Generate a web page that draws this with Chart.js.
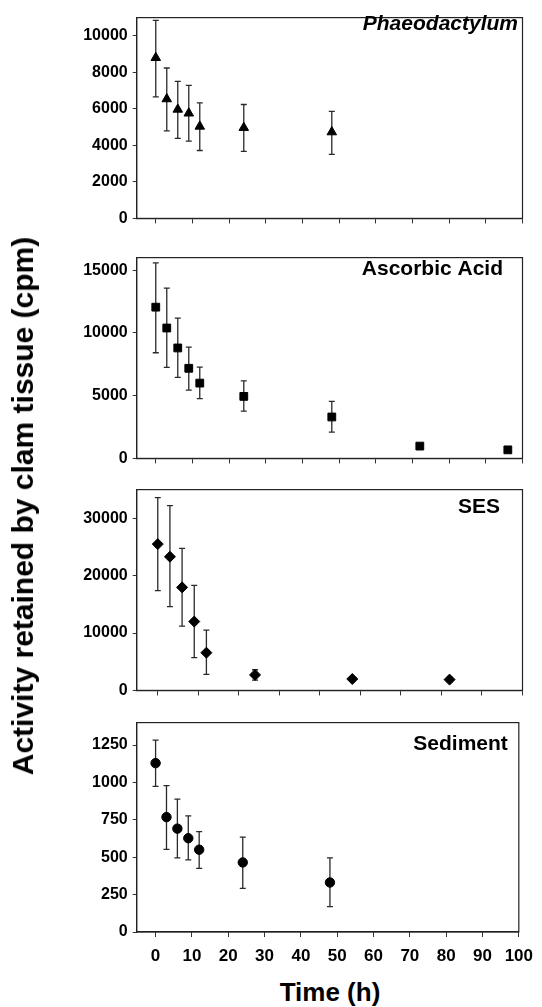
<!DOCTYPE html>
<html>
<head>
<meta charset="utf-8">
<script src="https://cdn.jsdelivr.net/npm/chart.js@4.4.1/dist/chart.umd.min.js"></script>
<style>
  html, body { margin: 0; padding: 0; background: #fff; }
  #wrap { position: relative; width: 542px; height: 1007px; overflow: hidden; background: #fff; }
  canvas { position: absolute; left: 0; }
  .ytitle { position: absolute; left: 23px; top: 506px; transform: translate(-50%, -50%) rotate(-90deg);
    white-space: nowrap; font: bold 30px "Liberation Sans", Arial, sans-serif; color: #000; line-height: 1; }
  .xtitle { position: absolute; left: 330px; top: 992px; transform: translate(-50%, -50%);
    white-space: nowrap; font: bold 26px "Liberation Sans", Arial, sans-serif; color: #000; line-height: 1; }
</style>
</head>
<body>
<div id="wrap">
  <canvas id="c1"></canvas>
  <canvas id="c2"></canvas>
  <canvas id="c3"></canvas>
  <canvas id="c4"></canvas>
  <div class="ytitle">Activity retained by clam tissue (cpm)</div>
  <div class="xtitle">Time (h)</div>
</div>
<script>
// ---- Data ----
const xTicks = [0, 10, 20, 30, 40, 50, 60, 70, 80, 90, 100];
const sesXTicks = [0, 10, 20, 30, 40, 50, 60, 70, 80, 90];

const phaeoTime = [0, 3, 6, 9, 12, 24, 48];
const phaeoMean = [8800, 6540, 5970, 5760, 5040, 4970, 4730];
const phaeoLow  = [6660, 4800, 4380, 4230, 3720, 3670, 3510];
const phaeoHigh = [10850, 8240, 7510, 7290, 6330, 6240, 5860];
const phaeoYTicks = [0, 2000, 4000, 6000, 8000, 10000];

const ascTime = [0, 3, 6, 9, 12, 24, 48, 72, 96];
const ascMean = [12050, 10390, 8800, 7180, 6000, 4940, 3300, 980, 680];
const ascLow  = [8420, 7260, 6450, 5440, 4760, 3760, 2090, null, null];
const ascHigh = [15580, 13560, 11170, 8870, 7280, 6180, 4550, null, null];
const ascYTicks = [0, 5000, 10000, 15000];

const sesTime = [0, 3, 6, 9, 12, 24, 48, 72];
const sesMean = [25500, 23300, 17960, 12000, 6570, 2700, 1990, 1880];
const sesLow  = [17400, 14600, 11200, 5700, 2800, 1800, 1600, 1500];
const sesHigh = [33600, 32200, 24750, 18300, 10500, 3600, 2400, 2250];
const sesYTicks = [0, 10000, 20000, 30000];

const sedTime = [0, 3, 6, 9, 12, 24, 48];
const sedMean = [1129, 768, 691, 627, 550, 465, 331];
const sedLow  = [974, 553, 496, 482, 425, 292, 169];
const sedHigh = [1283, 978, 888, 776, 671, 634, 496];
const sedYTicks = [0, 250, 500, 750, 1000, 1250];

// ---- Plugins ----
const errorBars = {
  id: 'errorBars',
  beforeDatasetsDraw(chart) {
    const ctx = chart.ctx, xs = chart.scales.x, ys = chart.scales.y;
    chart.data.datasets.forEach(ds => {
      if (!ds.errLow) return;
      ctx.save();
      ctx.strokeStyle = '#2a2a2a';
      ctx.lineWidth = 1.3;
      ds.data.forEach((p, i) => {
        const lo = ds.errLow[i], hi = ds.errHigh[i];
        if (lo == null || hi == null) return;
        const x = xs.getPixelForValue(p.x);
        const y1 = ys.getPixelForValue(lo), y2 = ys.getPixelForValue(hi);
        ctx.beginPath();
        ctx.moveTo(x, y1); ctx.lineTo(x, y2);
        ctx.moveTo(x - 3, y1); ctx.lineTo(x + 3, y1);
        ctx.moveTo(x - 3, y2); ctx.lineTo(x + 3, y2);
        ctx.stroke();
      });
      ctx.restore();
    });
  }
};
const boxAndTitle = {
  id: 'boxAndTitle',
  afterDraw(chart, args, opts) {
    const ctx = chart.ctx, a = chart.chartArea;
    ctx.save();
    ctx.strokeStyle = '#222';
    ctx.lineWidth = 1.2;
    ctx.strokeRect(a.left, a.top, a.right - a.left, a.bottom - a.top);
    ctx.fillStyle = '#000';
    ctx.font = (opts.italic ? 'italic ' : '') + 'bold 21px "Liberation Sans", Arial, sans-serif';
    ctx.textAlign = 'right';
    ctx.textBaseline = 'middle';
    ctx.fillText(opts.text, a.right - opts.dx, a.top + opts.dy);
    ctx.restore();
  }
};

const AREA_LEFT = 136.7;
const FONT = '"Liberation Sans", Arial, sans-serif';

function makePanel(id, p) {
  const padTop = 10;
  const xAxisH = p.showX ? 42 : 8;
  const areaH = p.bottom - p.top;
  const cv = document.getElementById(id);
  const h = padTop + areaH + xAxisH;
  cv.style.top = (p.top - padTop) + 'px';
  cv.style.width = '542px';
  cv.style.height = h + 'px';
  cv.width = 542; cv.height = h;
  new Chart(cv, {
    type: 'scatter',
    data: {
      datasets: [{
        data: p.time.map((t, i) => ({ x: t, y: p.mean[i] })),
        errLow: p.low, errHigh: p.high,
        pointStyle: p.style,
        pointRadius: p.radius,
        backgroundColor: '#000',
        borderColor: '#000',
        borderWidth: 1,
        showLine: false
      }]
    },
    options: {
      responsive: false,
      animation: false,
      devicePixelRatio: 1,
      layout: { padding: { top: padTop, left: 0, right: 542 - p.right, bottom: 0 } },
      plugins: {
        legend: { display: false },
        tooltip: { enabled: false },
        boxAndTitle: { text: p.title, italic: p.italic, dx: p.tdx, dy: p.tdy }
      },
      scales: {
        x: {
          type: 'linear',
          min: -5.2, max: p.xMax,
          afterBuildTicks: s => { s.ticks = p.xTicks.map(v => ({ value: v })); },
          afterFit: s => { s.height = xAxisH; },
          ticks: { display: p.showX, autoSkip: false, maxRotation: 0, padding: 9, color: '#000',
                   font: { family: FONT, weight: 'bold', size: 17 } },
          grid: { drawOnChartArea: false, drawTicks: true, tickLength: 5, color: '#333', lineWidth: 1 },
          border: { display: true, color: '#222', width: 1.2 }
        },
        y: {
          type: 'linear',
          min: 0, max: p.yMax,
          afterBuildTicks: s => { s.ticks = p.yTicks.map(v => ({ value: v })); },
          afterFit: s => { s.width = AREA_LEFT; },
          ticks: { autoSkip: false, padding: 5, color: '#000',
                   font: { family: FONT, weight: 'bold', size: 16 },
                   callback: v => String(v) },
          grid: { drawOnChartArea: false, drawTicks: true, tickLength: 4, color: '#333', lineWidth: 1 },
          border: { display: true, color: '#222', width: 1.2 }
        }
      }
    },
    plugins: [errorBars, boxAndTitle]
  });
}

makePanel('c1', { top: 13.3, bottom: 225.3, right: 522.5, xMax: 100, xTicks: xTicks, showX: false,
  time: phaeoTime, mean: phaeoMean, low: phaeoLow, high: phaeoHigh, yMax: 11000, yTicks: phaeoYTicks,
  style: 'triangle', radius: 5.5, title: 'Phaeodactylum', italic: true, tdx: 4.5, tdy: 7 });
makePanel('c2', { top: 252.7, bottom: 465, right: 522.5, xMax: 100, xTicks: xTicks, showX: false,
  time: ascTime, mean: ascMean, low: ascLow, high: ascHigh, yMax: 16000, yTicks: ascYTicks,
  style: 'rect', radius: 5.5, title: 'Ascorbic Acid', italic: false, tdx: 19.5, tdy: 12 });
makePanel('c3', { top: 485, bottom: 697, right: 522.5, xMax: 90, xTicks: sesXTicks, showX: false,
  time: sesTime, mean: sesMean, low: sesLow, high: sesHigh, yMax: 35000, yTicks: sesYTicks,
  style: 'rectRot', radius: 5.5, title: 'SES', italic: false, tdx: 22.5, tdy: 18 });
makePanel('c4', { top: 717.7, bottom: 931.7, right: 522.5, xMax: 100, xTicks: xTicks, showX: true,
  time: sedTime, mean: sedMean, low: sedLow, high: sedHigh, yMax: 1400, yTicks: sedYTicks,
  style: 'circle', radius: 4.7, title: 'Sediment', italic: false, tdx: 11, tdy: 22 });
</script>
</body>
</html>
